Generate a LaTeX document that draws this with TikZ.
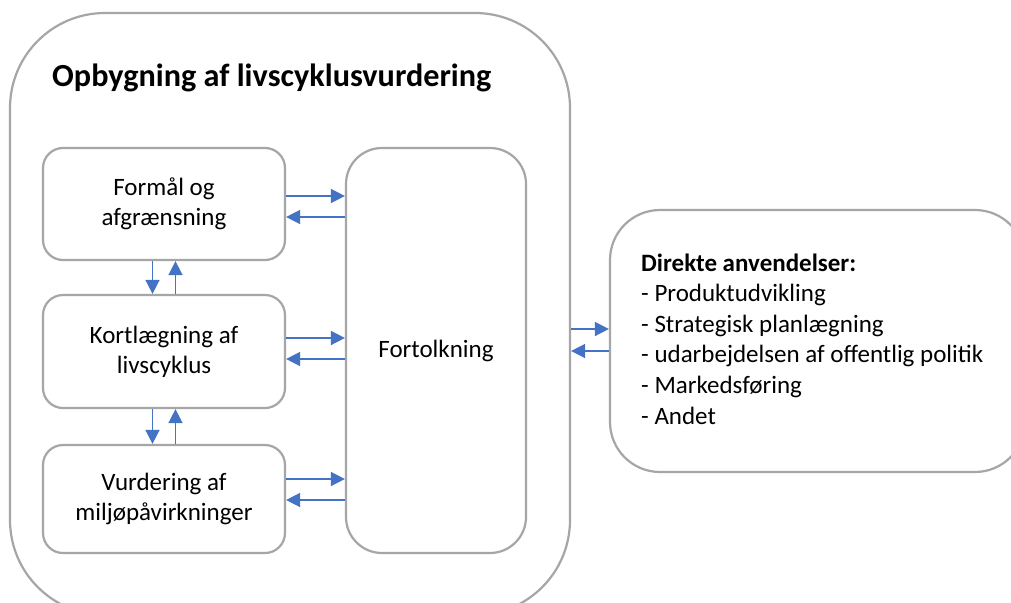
\documentclass[tikz,border=0pt]{standalone}
\usepackage{fontspec}
\setmainfont{Carlito}
\usetikzlibrary{arrows.meta}
\definecolor{boxgray}{HTML}{A6A6A6}
\definecolor{lcablue}{HTML}{4472C4}
\tikzset{
  frame/.style={draw=boxgray, line width=2.2pt, fill=white},
  stepbox/.style={frame, rounded corners=20pt, minimum width=242pt, align=center,
    font={\fontsize{25}{30}\selectfont}, inner sep=0pt},
  arr/.style={draw=lcablue, line width=1.5pt, -{Triangle[length=14pt,width=14pt]}},
}
\begin{document}
\begin{tikzpicture}[x=1pt,y=-1pt]
\useasboundingbox (0,0) rectangle (1011,602);
\clip (0,0) rectangle (1011,602);
\fill[white] (0,0) rectangle (1011,602);
% outer frame
\node[frame, rounded corners=95pt, minimum width=560pt, minimum height=602pt, inner sep=0pt] (lca) at (290,314) {};
\node[anchor=base west, inner sep=0pt, font={\fontsize{32.2}{38}\selectfont\bfseries}] (title) at (52,86) {Opbygning af livscyklusvurdering};
% steps
\node[stepbox, minimum height=112pt] (box1) at (164,204) {Formål og\\afgrænsning};
\node[stepbox, minimum height=113pt] (box2) at (164,351.5) {Kortlægning af\\livscyklus};
\node[stepbox, minimum height=108pt] (box3) at (164,499) {Vurdering af\\miljøpåvirkninger};
\node[frame, rounded corners=36pt, minimum width=180pt, minimum height=405pt, inner sep=0pt,
  font={\fontsize{25}{30}\selectfont}] (fort) at (436,350.5) {Fortolkning};
% applications
\node[frame, rounded corners=50pt, minimum width=415pt, minimum height=262pt, inner sep=0pt] (apps) at (817.5,341) {};
\node[anchor=base west, inner sep=0pt, align=left, font={\fontsize{25}{30.6}\selectfont}] (appstext) at (641,424)
  {\textbf{Direkte anvendelser:}\\- Produktudvikling\\- Strategisk planlægning\\- udarbejdelsen af offentlig politik\\- Markedsføring\\- Andet};
% horizontal arrows to/from Fortolkning
\coordinate (h1a) at ([yshift=8pt]box1.east);
\coordinate (h1b) at ([yshift=-13pt]box1.east);
\coordinate (h2a) at ([yshift=13.5pt]box2.east);
\coordinate (h2b) at ([yshift=-7.5pt]box2.east);
\coordinate (h3a) at ([yshift=20pt]box3.east);
\coordinate (h3b) at ([yshift=-1pt]box3.east);
\draw[arr] (h1a) -- (h1a -| fort.west);
\draw[arr] (h1b -| fort.west) -- (h1b);
\draw[arr] (h2a) -- (h2a -| fort.west);
\draw[arr] (h2b -| fort.west) -- (h2b);
\draw[arr] (h3a) -- (h3a -| fort.west);
\draw[arr] (h3b -| fort.west) -- (h3b);
% vertical arrows
\draw[arr] ([xshift=-11.5pt]box1.south) -- ([xshift=-11.5pt]box2.north);
\draw[arr] ([xshift=11.5pt]box2.north) -- ([xshift=11.5pt]box1.south);
\draw[arr] ([xshift=-11.5pt]box2.south) -- ([xshift=-11.5pt]box3.north);
\draw[arr] ([xshift=11.5pt]box3.north) -- ([xshift=11.5pt]box2.south);
% arrows between frame and applications
\coordinate (r1) at ([yshift=12pt]apps.west);
\coordinate (r2) at ([yshift=-10pt]apps.west);
\draw[arr] (r1 -| lca.east) -- (r1);
\draw[arr] (r2) -- (r2 -| lca.east);
\end{tikzpicture}
\end{document}
